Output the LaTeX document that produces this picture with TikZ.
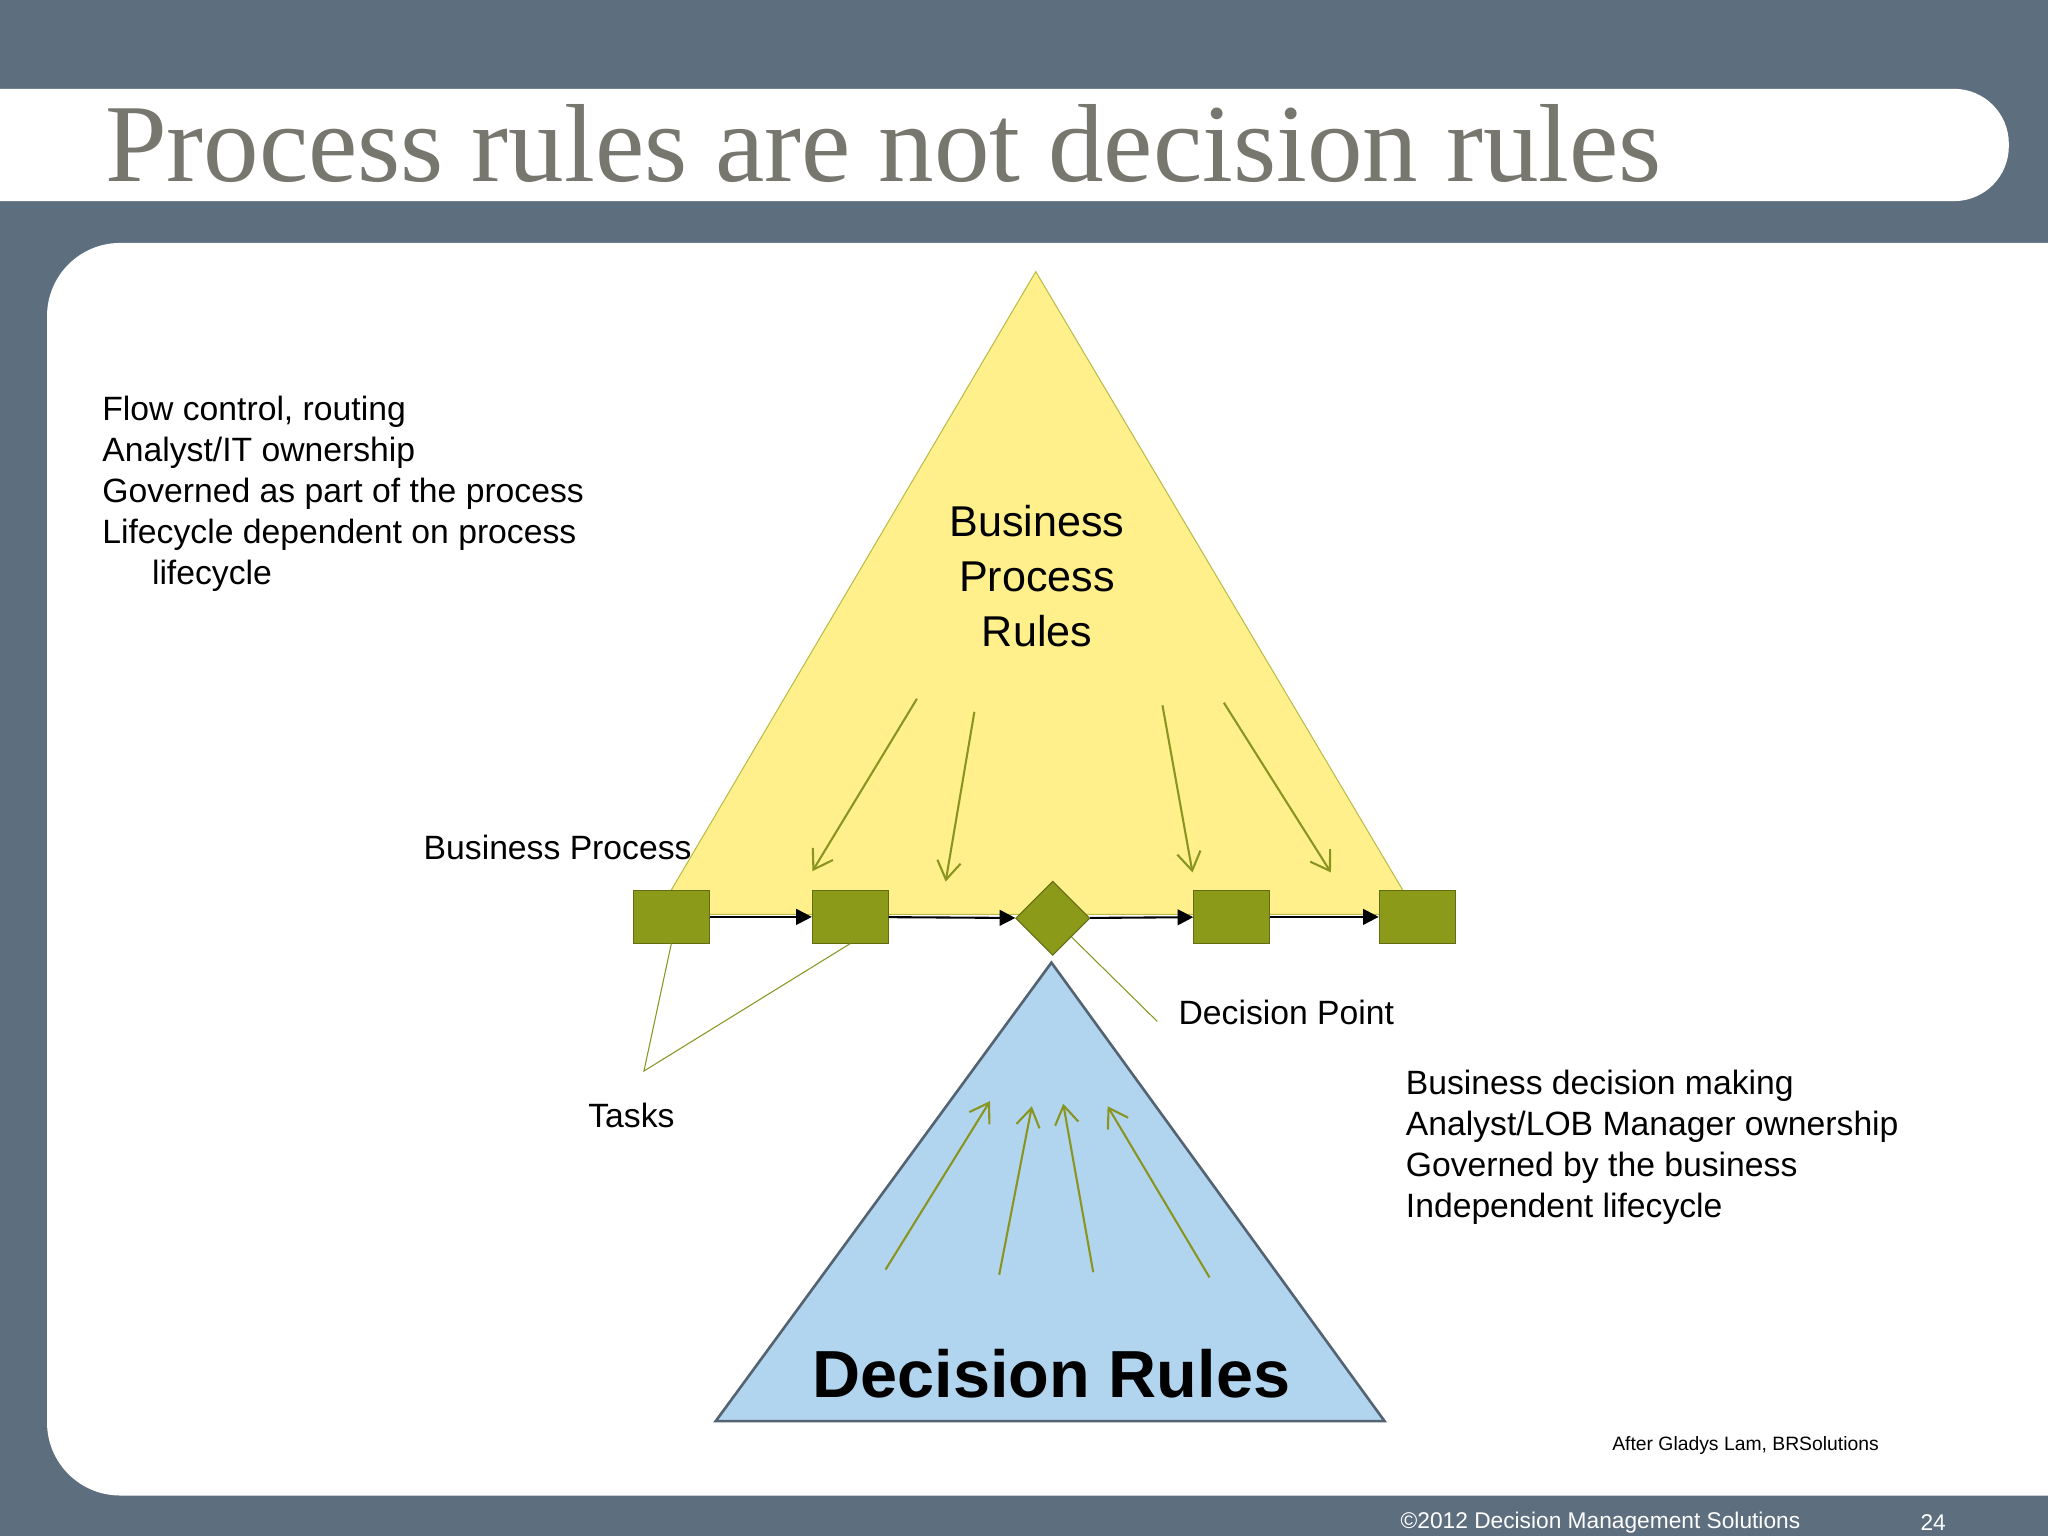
\documentclass[tikz,border=0pt]{standalone}
\usepackage{fontspec}
\setmainfont{Liberation Sans}
\newfontfamily\titlefont{Liberation Serif}
\usetikzlibrary{arrows.meta}
\definecolor{bg}{HTML}{5D6E7E}
\definecolor{olive}{HTML}{8C9A1A}
\definecolor{oliveline}{HTML}{8A9420}
\definecolor{ytri}{HTML}{FFF08C}
\definecolor{btri}{HTML}{B2D5EF}
\definecolor{titlegray}{HTML}{77776F}
\tikzset{
 task/.style={draw=olive!70!black,fill=olive,minimum width=29pt,minimum height=20pt,inner sep=0},
 flow/.style={-{Triangle[length=6pt,width=6pt]},thick},
 rulearrow/.style={oliveline,thick,-{Straight Barb[length=7pt,width=9pt]}},
 txt/.style={font=\fontsize{12.9}{15.7}\selectfont,align=left,anchor=north west,inner sep=0}
}
\begin{document}
\begin{tikzpicture}[x=0.5pt,y=-0.5pt]
\useasboundingbox (0,0) rectangle (1568,1176);
\fill[bg] (0,0) rectangle (1568,1176);
\fill[white,rounded corners=21pt] (-60,68) rectangle (1538,154);
\node[anchor=west,inner sep=0,text=titlegray,font=\titlefont\fontsize{42.5}{42.5}\selectfont] (title) at (80,110) {Process rules are not decision rules};
\fill[white,rounded corners=28pt] (36,186) rectangle (1640,1145);
% yellow triangle
\draw[draw=olive!60!ytri,fill=ytri] (793,208) -- (1085,700) -- (503,700) -- cycle;
% blue triangle
\draw[draw=bg!90!black,fill=btri,line width=1pt] (805,737) -- (1060,1088) -- (548,1088) -- cycle;
\node[font=\fontsize{16.5}{21}\selectfont,align=center] (bpr) at (794,441) {Business\\Process\\Rules};
\node[font=\bfseries\fontsize{25.5}{25.5}\selectfont] (dr) at (805,1052) {Decision Rules};
% tasks
\node[task] (t1) at (514,702) {};
\node[task] (t2) at (651,702) {};
\node[draw=olive!70!black,fill=olive,minimum width=20pt,minimum height=20pt,inner sep=0,rotate=45] (dp) at (806,703) {};
\node[task] (t3) at (943,702) {};
\node[task] (t4) at (1085,702) {};
\draw[flow] (t1) -- (t2);
\draw[flow] (t2) -- (dp);
\draw[flow] (dp) -- (t3);
\draw[flow] (t3) -- (t4);
% yellow arrows
\coordinate (a1) at (702,535); \coordinate (b1) at (622,667);
\coordinate (a2) at (746,545); \coordinate (b2) at (724,675);
\coordinate (a3) at (890,540); \coordinate (b3) at (913,668);
\coordinate (a4) at (937,538); \coordinate (b4) at (1019,668);
\foreach \i in {1,...,4} \draw[rulearrow] (a\i) -- (b\i);
% blue arrows
\coordinate (c1) at (678,972); \coordinate (d1) at (758,843);
\coordinate (c2) at (765,976); \coordinate (d2) at (790,847);
\coordinate (c3) at (837,974); \coordinate (d3) at (814,845);
\coordinate (c4) at (926,978); \coordinate (d4) at (848,847);
\foreach \i in {1,...,4} \draw[rulearrow] (c\i) -- (d\i);
% callouts
\coordinate (tk) at (493,820);
\draw[oliveline] (t1.south) -- (tk) -- (t2.south);
\coordinate (dpl) at (886,782);
\draw[oliveline] (dp.south) -- (dpl);
% texts
\node[txt] (left) at (78,303) {Flow control, routing\\Analyst/IT ownership\\Governed as part of the process\\Lifecycle dependent on process\\\hspace*{19pt}lifecycle};
\node[txt] (bp) at (324,639) {Business Process};
\node[txt] (tasks) at (450,844) {Tasks};
\node[txt] (dpt) at (902,765) {Decision Point};
\node[txt] (right) at (1076,819) {Business decision making\\Analyst/LOB Manager ownership\\Governed by the business\\Independent lifecycle};
\node[anchor=west,inner sep=0,font=\fontsize{7.4}{8}\selectfont] (after) at (1234,1107) {After Gladys Lam, BRSolutions};
\node[anchor=west,inner sep=0,text=white,font=\fontsize{8.7}{9}\selectfont] (copy) at (1072,1166) {©2012 Decision Management Solutions};
\node[anchor=west,inner sep=0,text=white,font=\fontsize{8.7}{9}\selectfont] (pg) at (1470,1166) {24};
\end{tikzpicture}
\end{document}
